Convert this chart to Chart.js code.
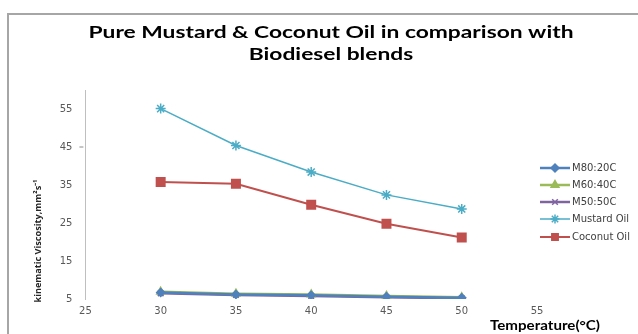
<!DOCTYPE html>
<html>
<head>
<meta charset="utf-8">
<script src="https://cdn.jsdelivr.net/npm/chart.js@4.4.1/dist/chart.umd.min.js"></script>
<style>
  html, body { margin: 0; padding: 0; background: #ffffff; }
  #wrap { width: 638px; height: 334px; position: relative; }
</style>
</head>
<body>
<div id="wrap"><canvas id="c" width="638" height="334"></canvas></div>
<script>
// ---- data ----
const temperatures = [30, 35, 40, 45, 50];
const seriesNames = ["M80:20C", "M60:40C", "M50:50C", "Mustard Oil", "Coconut Oil"];
const m80_20 = [6.7, 6.2, 6.0, 5.6, 5.3];
const m60_40 = [6.9, 6.4, 6.2, 5.8, 5.45];
const m50_50 = [6.5, 6.05, 5.8, 5.45, 5.2];
const mustardOil = [55.1, 45.4, 38.4, 32.4, 28.7];
const coconutOil = [35.8, 35.3, 29.8, 24.8, 21.2];
const xTicks = [25, 30, 35, 40, 45, 50, 55];
const yTicks = [5, 15, 25, 35, 45, 55];
const titleLines = ["Pure Mustard & Coconut Oil in comparison with", "Biodiesel blends"];
const xTitle = "Temperature(°C)";
const yTitle = "kinematic Viscosity,mm²s⁻¹";

const styles = [
  { color: "#4F81BD", pointStyle: "rectRot", radius: 4, width: 2.5 },
  { color: "#9BBB59", pointStyle: "triangle", radius: 4.5, width: 2.5 },
  { color: "#8064A2", pointStyle: "crossRot", radius: 4, width: 2.5 },
  { color: "#4BACC6", pointStyle: "star", radius: 5, width: 1.5 },
  { color: "#C0504D", pointStyle: "rect", radius: 6, width: 2 }
];
const allValues = [m80_20, m60_40, m50_50, mustardOil, coconutOil];

const datasets = allValues.map((vals, i) => ({
  label: seriesNames[i],
  data: temperatures.map((t, k) => ({ x: t, y: vals[k] })),
  borderColor: styles[i].color,
  backgroundColor: styles[i].color,
  borderWidth: styles[i].width,
  pointStyle: styles[i].pointStyle,
  pointRadius: styles[i].radius,
  pointBorderWidth: 1.5,
  pointBorderColor: styles[i].color,
  pointBackgroundColor: styles[i].color,
  tension: 0,
  showLine: true
}));

function stretchedText(ctx, text, cx, cy, targetWidth) {
  const w = ctx.measureText(text).width;
  const sx = targetWidth / w;
  ctx.save();
  ctx.translate(cx, cy);
  ctx.scale(sx, 1);
  ctx.fillText(text, 0, 0);
  ctx.restore();
}

const decor = {
  id: "decor",
  afterDraw(chart) {
    const ctx = chart.ctx;
    ctx.save();
    // frame
    ctx.strokeStyle = "#a6a6a6";
    ctx.lineWidth = 2;
    ctx.beginPath();
    ctx.moveTo(8, 334);
    ctx.lineTo(8, 14);
    ctx.lineTo(638, 14);
    ctx.stroke();

    // title
    ctx.fillStyle = "#000000";
    ctx.textAlign = "center";
    ctx.textBaseline = "middle";
    ctx.font = "bold 17px Lato, 'Liberation Sans', sans-serif";
    const w0 = ctx.measureText(titleLines[0]).width;
    const sx = 485 / w0;
    ctx.save();
    ctx.translate(331, 33);
    ctx.scale(sx, 1);
    ctx.fillText(titleLines[0], 0, 0);
    ctx.fillText(titleLines[1], 0, 22);
    ctx.restore();

    // x axis title
    ctx.font = "bold 12.5px Lato, 'Liberation Sans', sans-serif";
    stretchedText(ctx, xTitle, 545, 326, 110);

    // y axis title
    ctx.save();
    ctx.translate(38, 241);
    ctx.rotate(-Math.PI / 2);
    ctx.font = "bold 9.5px 'Open Sans', 'Liberation Sans', sans-serif";
    ctx.fillStyle = "#262626";
    const wy = ctx.measureText(yTitle).width;
    ctx.scale(123 / wy, 1);
    ctx.fillText(yTitle, 0, 0);
    ctx.restore();

    // a lone tick mark on the y axis at 45, as in the reference
    const ys = chart.scales.y;
    const y45 = ys.getPixelForValue(45);
    ctx.strokeStyle = "#8c8c8c";
    ctx.lineWidth = 1;
    ctx.beginPath();
    ctx.moveTo(ys.right - 6, y45);
    ctx.lineTo(ys.right - 2, y45);
    ctx.stroke();

    // legend
    const legendY = [168, 185, 202, 219, 237];
    ctx.font = "10px 'DejaVu Sans', sans-serif";
    ctx.textAlign = "left";
    for (let i = 0; i < seriesNames.length; i++) {
      const y = legendY[i];
      const st = styles[i];
      ctx.strokeStyle = st.color;
      ctx.lineWidth = st.width;
      ctx.beginPath();
      ctx.moveTo(540, y);
      ctx.lineTo(570, y);
      ctx.stroke();
      ctx.fillStyle = st.color;
      ctx.lineWidth = 1.5;
      Chart.helpers.drawPoint(ctx, { pointStyle: st.pointStyle, radius: Math.min(st.radius, 4.5), rotation: 0, borderWidth: 1.5 }, 555, y);
      ctx.fillStyle = "#404040";
      ctx.fillText(seriesNames[i], 572, y + 0.5);
    }
    ctx.restore();
  }
};

new Chart(document.getElementById("c"), {
  type: "scatter",
  data: { datasets },
  plugins: [decor],
  options: {
    responsive: false,
    animation: false,
    devicePixelRatio: 1,
    layout: { padding: { left: 0, top: 90, right: 101, bottom: 0 } },
    plugins: { legend: { display: false }, title: { display: false }, tooltip: { enabled: false } },
    scales: {
      x: {
        type: "linear",
        min: 25, max: 55,
        afterFit: s => { s.height = 35; },
        afterBuildTicks: s => { s.ticks = xTicks.map(v => ({ value: v })); },
        grid: { display: false, drawTicks: false, tickLength: 0 },
        border: { display: false },
        ticks: { color: "#595959", padding: 6, font: { size: 10, family: "'DejaVu Sans', sans-serif" } }
      },
      y: {
        min: 5, max: 60,
        afterFit: s => { s.width = 85.4; },
        afterBuildTicks: s => { s.ticks = yTicks.map(v => ({ value: v })); },
        grid: { display: false, drawTicks: false, tickLength: 0 },
        border: { display: true, color: "#bfbfbf", width: 1 },
        ticks: { color: "#595959", padding: 13, font: { size: 10, family: "'DejaVu Sans', sans-serif" } }
      }
    }
  }
});
</script>
</body>
</html>
